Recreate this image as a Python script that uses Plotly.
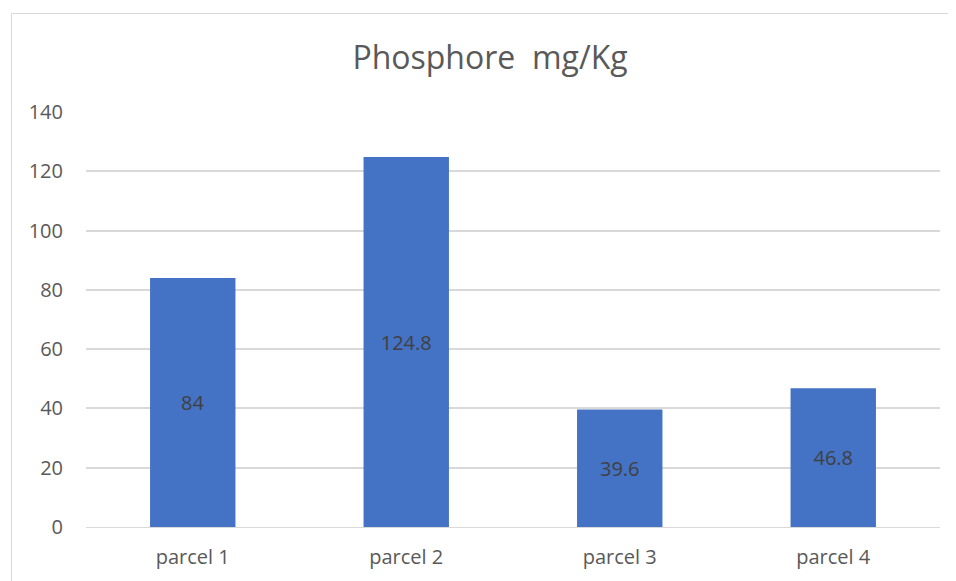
import plotly.graph_objects as go

categories = ["parcel 1", "parcel 2", "parcel 3", "parcel 4"]
values = [84, 124.8, 39.6, 46.8]
value_labels = ["84", "124.8", "39.6", "46.8"]
y_ticks = [0, 20, 40, 60, 80, 100, 120, 140]

OFF = 8  # default body margin of the page
W, H = 956 - OFF, 581 - OFF
L, R, T, B = 86 - OFF, 16, 112 - OFF, 54
pw, ph = W - L - R, H - T - B
FONT = "Open Sans"

fig = go.Figure(go.Bar(
    x=categories, y=values, text=value_labels,
    textposition="inside", insidetextanchor="middle",
    textfont=dict(color="#404040", size=20, family=FONT),
    marker=dict(color="#4472C4", line=dict(width=0)),
    width=0.4,
))

def px(x):
    return (x - OFF - L) / pw

def py(y):
    return (H - B - (y - OFF)) / ph

fig.add_shape(type="rect", xref="paper", yref="paper",
              x0=px(11.5), x1=px(965), y0=py(13.5), y1=py(595),
              line=dict(color="#d9d9d9", width=1), layer="below")

fig.update_layout(
    width=W, height=H,
    margin=dict(l=L, r=R, t=T, b=B),
    paper_bgcolor="white", plot_bgcolor="white",
    title=dict(text="Phosphore\u00a0 mg/Kg", x=(490 - OFF) / W, xanchor="center",
               y=1 - (58 - OFF) / H, yanchor="middle",
               font=dict(family=FONT, size=32, color="#595959")),
    showlegend=False,
)
fig.update_yaxes(range=[0, 140], tickvals=y_ticks, showgrid=True,
                 gridcolor="#d9d9d9", gridwidth=1.5, zeroline=False,
                 showline=False, ticks="", ticklabelstandoff=22,
                 tickfont=dict(family=FONT, size=20, color="#595959"))
fig.update_xaxes(showline=True, linecolor="#d9d9d9", linewidth=1, ticks="",
                 tickfont=dict(family=FONT, size=20, color="#595959"),
                 ticklabelstandoff=12)

fig.write_html("out.html")
